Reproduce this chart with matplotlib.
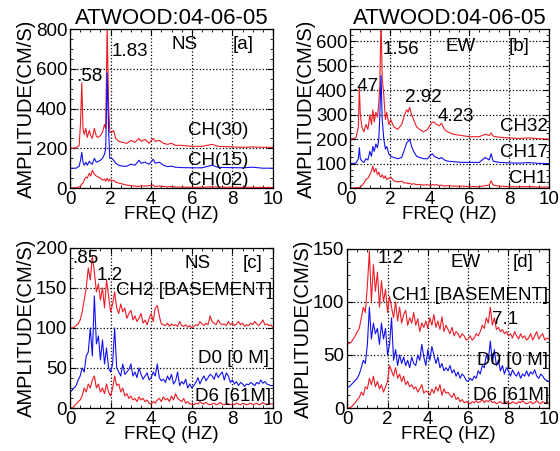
import numpy as np
import matplotlib
matplotlib.use('Agg')
from matplotlib import pyplot as plt
from matplotlib.ticker import MultipleLocator

plt.rcParams['font.family'] = ['Liberation Sans', 'DejaVu Sans']
FS = 13.5
RED = '#ec1c24'
BLUE = '#1010f0'

# Panel a (NS): frequencies and spectral amplitudes
freq_a = [0, 0.3, 0.45, 0.52, 0.58, 0.64, 0.7, 0.78, 0.85, 0.95, 1.02, 1.1, 1.2,
          1.3, 1.4, 1.5, 1.6, 1.7, 1.76, 1.83, 1.9, 1.96, 2.05, 2.15, 2.25, 2.4,
          2.6, 2.8, 3.0, 3.2, 3.4, 3.5, 3.7, 3.9, 4.1, 4.2, 4.4, 4.6, 4.8, 5.0,
          5.2, 5.5, 6.0, 6.5, 7.0, 7.3, 7.8, 8.5, 9.0, 9.5, 10]
ch30 = [200, 202, 215, 330, 530, 300, 270, 300, 255, 290, 265, 250, 300, 260,
        255, 265, 280, 320, 300, 820, 420, 280, 280, 290, 250, 235, 230, 225,
        240, 230, 250, 235, 245, 225, 250, 235, 240, 225, 220, 225, 215, 215,
        210, 210, 220, 210, 208, 205, 207, 205, 205]
ch15 = [100, 100, 110, 140, 180, 130, 115, 130, 115, 135, 125, 120, 150, 130,
        135, 140, 150, 170, 200, 580, 300, 150, 150, 140, 125, 115, 110, 110,
        120, 115, 140, 125, 130, 120, 145, 125, 130, 115, 108, 110, 105, 103,
        102, 102, 115, 104, 103, 102, 105, 100, 100]
ch02 = [0, 2, 5, 10, 20, 25, 40, 55, 50, 75, 60, 90, 70, 60, 55, 50, 40, 45, 35,
        50, 35, 45, 35, 40, 30, 25, 20, 15, 12, 10, 8, 12, 10, 12, 15, 8, 10, 8,
        6, 8, 5, 5, 4, 4, 6, 5, 4, 4, 4, 3, 3]

# Panel b (EW)
freq_b = [0, 0.3, 0.42, 0.47, 0.52, 0.6, 0.7, 0.8, 0.9, 1.0, 1.08, 1.15, 1.22,
          1.3, 1.38, 1.45, 1.5, 1.56, 1.62, 1.7, 1.78, 1.85, 1.95, 2.05, 2.2,
          2.4, 2.6, 2.75, 2.85, 2.92, 3.0, 3.1, 3.2, 3.35, 3.5, 3.7, 3.9, 4.05,
          4.15, 4.23, 4.35, 4.5, 4.6, 4.75, 4.9, 5.2, 5.6, 6.0, 6.5, 6.8, 7.0,
          7.1, 7.2, 7.5, 8.0, 8.5, 9.0, 9.5, 10]
ch32 = [200, 205, 250, 410, 300, 250, 230, 260, 240, 300, 260, 320, 270, 310,
        290, 350, 420, 700, 450, 380, 280, 310, 260, 280, 250, 240, 260, 300,
        320, 310, 330, 300, 280, 250, 240, 230, 240, 260, 270, 270, 260, 255,
        265, 240, 230, 220, 215, 210, 210, 220, 215, 225, 212, 208, 205, 203,
        205, 202, 200]
ch17 = [100, 102, 120, 165, 120, 110, 105, 120, 115, 150, 130, 170, 150, 180,
        165, 200, 300, 460, 280, 200, 160, 170, 140, 130, 125, 120, 125, 160,
        185, 190, 200, 170, 150, 130, 125, 120, 120, 135, 140, 130, 125, 120,
        125, 115, 110, 108, 105, 105, 105, 125, 115, 140, 110, 105, 103, 102,
        104, 101, 100]
ch1 = [0, 1, 2, 3, 5, 10, 20, 35, 40, 55, 70, 90, 65, 80, 55, 65, 50, 45, 55,
       40, 50, 35, 40, 45, 30, 25, 28, 20, 22, 18, 20, 15, 18, 14, 15, 12, 14,
       10, 15, 12, 14, 10, 12, 8, 10, 8, 8, 6, 6, 10, 12, 30, 12, 8, 6, 5, 6,
       4, 4]

# Panels c and d: 0.1 Hz sampling from 0 to 10 Hz
freq_cd = np.round(np.arange(0, 10.001, 0.1), 1)
ch2_ns = [100, 100, 101, 103, 105, 110, 120, 135, 150, 175,
          160, 190, 170, 145, 155, 135, 150, 125, 160, 140,
          120, 130, 145, 125, 118, 130, 120, 125, 112, 118,
          122, 110, 115, 108, 112, 118, 106, 110, 104, 112,
          118, 108, 125, 128, 115, 105, 104, 103, 106, 102,
          105, 103, 104, 102, 108, 103, 102, 104, 101, 103,
          100, 102, 104, 103, 108, 105, 103, 106, 104, 115,
          108, 106, 104, 110, 106, 104, 105, 103, 108, 104,
          106, 103, 105, 108, 104, 106, 102, 104, 103, 106,
          104, 108, 105, 103, 106, 110, 104, 105, 103, 104, 100]
d0_ns = [20, 22, 25, 28, 35, 40, 50, 45, 65, 70,
         100, 65, 140, 80, 90, 60, 85, 55, 75, 50,
         45, 55, 100, 50, 45, 40, 55, 42, 45, 48,
         55, 40, 45, 38, 50, 42, 36, 40, 44, 35,
         38, 45, 40, 55, 38, 34, 36, 32, 40, 35,
         42, 30, 34, 45, 28, 33, 30, 36, 25, 30,
         25, 28, 32, 38, 30, 36, 40, 34, 38, 42,
         40, 36, 44, 38, 42, 45, 35, 44, 40, 32,
         35, 30, 33, 28, 32, 30, 27, 30, 29, 32,
         30, 28, 32, 30, 35, 31, 33, 30, 29, 28, 28]
d6_ns = [0, 0, 2, 5, 8, 10, 15, 25, 20, 30,
         25, 35, 40, 25, 30, 20, 25, 18, 30, 20,
         15, 25, 40, 28, 30, 20, 25, 15, 18, 12,
         15, 10, 12, 8, 14, 10, 12, 8, 10, 6,
         5, 8, 6, 10, 12, 8, 14, 10, 12, 8,
         15, 10, 18, 12, 10, 8, 12, 6, 8, 5,
         5, 4, 6, 5, 8, 6, 5, 7, 5, 4,
         5, 6, 4, 5, 7, 5, 4, 6, 5, 4,
         5, 4, 6, 5, 4, 6, 5, 4, 5, 6,
         4, 5, 6, 4, 5, 7, 5, 4, 6, 5, 5]
ch1_ew = [60, 61, 62, 65, 68, 72, 75, 85, 95, 90,
          115, 148, 100, 135, 110, 128, 95, 120, 100, 112,
          90, 105, 95, 85, 100, 82, 95, 80, 88, 92,
          78, 85, 80, 90, 78, 84, 72, 80, 76, 82,
          75, 85, 78, 88, 76, 82, 74, 86, 72, 78,
          74, 70, 76, 68, 72, 70, 66, 70, 68, 64,
          65, 68, 64, 66, 70, 68, 72, 78, 75, 85,
          80, 95, 78, 85, 74, 76, 72, 74, 70, 72,
          68, 70, 66, 72, 68, 65, 70, 66, 68, 64,
          66, 70, 64, 68, 72, 65, 68, 70, 64, 66, 65]
d0_ew = [20, 20, 22, 24, 26, 28, 32, 38, 45, 42,
         60, 95, 65, 80, 70, 75, 60, 80, 65, 75,
         50, 60, 85, 45, 55, 40, 50, 42, 48, 40,
         45, 38, 48, 42, 40, 50, 45, 60, 48, 40,
         55, 45, 58, 50, 42, 48, 38, 42, 35, 38,
         35, 40, 33, 36, 30, 34, 28, 32, 30, 26,
         25, 28, 26, 30, 28, 35, 32, 40, 38, 50,
         45, 63, 42, 55, 40, 45, 35, 40, 32, 38,
         35, 30, 36, 32, 30, 34, 28, 32, 30, 35,
         30, 34, 32, 36, 30, 28, 32, 30, 27, 26, 25]
d6_ew = [0, 0, 1, 3, 5, 8, 10, 15, 12, 20,
         18, 28, 22, 30, 20, 25, 18, 22, 15, 20,
         25, 40, 35, 30, 38, 28, 32, 25, 30, 22,
         25, 20, 22, 18, 20, 15, 18, 22, 14, 16,
         15, 12, 18, 14, 20, 16, 22, 12, 18, 14,
         15, 12, 10, 14, 8, 10, 6, 8, 5, 6,
         5, 4, 6, 5, 7, 5, 6, 8, 5, 7,
         6, 8, 5, 6, 4, 5, 6, 4, 5, 6,
         5, 4, 6, 5, 4, 6, 5, 7, 5, 4,
         5, 6, 4, 5, 7, 5, 4, 6, 5, 4, 5]


def style(ax, ymax, ystep):
    ax.set_xlim(0, 10)
    ax.set_ylim(0, ymax)
    ax.xaxis.set_major_locator(MultipleLocator(2))
    ax.xaxis.set_minor_locator(MultipleLocator(0.5))
    ax.yaxis.set_major_locator(MultipleLocator(ystep))
    ax.yaxis.set_minor_locator(MultipleLocator(ystep / 4))
    ax.tick_params(which='both', direction='in', top=True, right=True,
                   labelsize=FS, pad=2)
    ax.tick_params(which='major', length=4)
    ax.tick_params(which='minor', length=2)
    ax.grid(True, which='major', linestyle=':', color='black', linewidth=0.9)
    ax.set_xlabel('FREQ (HZ)', fontsize=FS, labelpad=-1)
    ax.set_ylabel('AMPLITUDE(CM/S)', fontsize=14.5, labelpad=0)
    for s in ax.spines.values():
        s.set_linewidth(0.9)


fig = plt.figure(figsize=(5.6, 4.51), dpi=100)
ax_a = fig.add_axes([0.125, 0.583, 0.3625, 0.3525])
ax_b = fig.add_axes([0.625, 0.583, 0.355, 0.3525])
ax_c = fig.add_axes([0.125, 0.0953, 0.3625, 0.355])
ax_d = fig.add_axes([0.62, 0.0953, 0.36, 0.353])

lw = 0.8

# [a]
ax_a.plot(freq_a, ch30, color=RED, lw=lw)
ax_a.plot(freq_a, ch15, color=BLUE, lw=lw)
ax_a.plot(freq_a, ch02, color=RED, lw=lw)
style(ax_a, 800, 200)
ax_a.set_title('ATWOOD:04-06-05', fontsize=16, pad=3)
ax_a.text(0.3, 560, '.58', fontsize=FS, va='center')
ax_a.text(2.05, 685, '1.83', fontsize=FS, va='center')
ax_a.text(5.0, 720, 'NS', fontsize=FS, va='center')
ax_a.text(8.0, 720, '[a]', fontsize=FS, va='center')
ax_a.text(5.8, 290, 'CH(30)', fontsize=FS, va='center')
ax_a.text(5.8, 140, 'CH(15)', fontsize=FS, va='center')
ax_a.text(5.8, 40, 'CH(02)', fontsize=FS, va='center')

# [b]
ax_b.plot(freq_b, ch32, color=RED, lw=lw)
ax_b.plot(freq_b, ch17, color=BLUE, lw=lw)
ax_b.plot(freq_b, ch1, color=RED, lw=lw)
style(ax_b, 650, 100)
ax_b.set_title('ATWOOD:04-06-05', fontsize=16, pad=3)
ax_b.text(0.1, 415, '.47', fontsize=FS, va='center')
ax_b.text(1.65, 568, '1.56', fontsize=FS, va='center')
ax_b.text(4.8, 580, 'EW', fontsize=FS, va='center')
ax_b.text(8.0, 580, '[b]', fontsize=FS, va='center')
ax_b.text(2.75, 370, '2.92', fontsize=FS, va='center')
ax_b.text(4.4, 292, '4.23', fontsize=FS, va='center')
ax_b.text(9.95, 251, 'CH32', fontsize=FS, va='center', ha='right')
ax_b.text(9.95, 144, 'CH17', fontsize=FS, va='center', ha='right')
ax_b.text(8.0, 41, 'CH1', fontsize=FS, va='center')

# [c]
ax_c.plot(freq_cd, ch2_ns, color=RED, lw=lw)
ax_c.plot(freq_cd, d0_ns, color=BLUE, lw=lw)
ax_c.plot(freq_cd, d6_ns, color=RED, lw=lw)
style(ax_c, 200, 50)
ax_c.text(0.1, 187, '.85', fontsize=FS, va='center')
ax_c.text(1.3, 166, '1.2', fontsize=FS, va='center')
ax_c.text(5.65, 181, 'NS', fontsize=FS, va='center')
ax_c.text(8.5, 181, '[c]', fontsize=FS, va='center')
ax_c.text(9.95, 147, 'CH2 [BASEMENT]', fontsize=FS, va='center', ha='right')
ax_c.text(9.8, 62, 'D0 [0 M]', fontsize=FS, va='center', ha='right')
ax_c.text(9.9, 14, 'D6 [61M]', fontsize=FS, va='center', ha='right')

# [d]
ax_d.plot(freq_cd, ch1_ew, color=RED, lw=lw)
ax_d.plot(freq_cd, d0_ew, color=BLUE, lw=lw)
ax_d.plot(freq_cd, d6_ew, color=RED, lw=lw)
style(ax_d, 150, 50)
ax_d.text(1.5, 141, '1.2', fontsize=FS, va='center')
ax_d.text(5.1, 137, 'EW', fontsize=FS, va='center')
ax_d.text(8.2, 137, '[d]', fontsize=FS, va='center')
ax_d.text(9.95, 106, 'CH1 [BASEMENT]', fontsize=FS, va='center', ha='right')
ax_d.text(7.2, 83, '7.1', fontsize=FS, va='center')
ax_d.text(9.95, 45, 'D0 [0 M]', fontsize=FS, va='center', ha='right')
ax_d.text(10.0, 12, 'D6 [61M]', fontsize=FS, va='center', ha='right')

fig.savefig('out.png', dpi=100)
